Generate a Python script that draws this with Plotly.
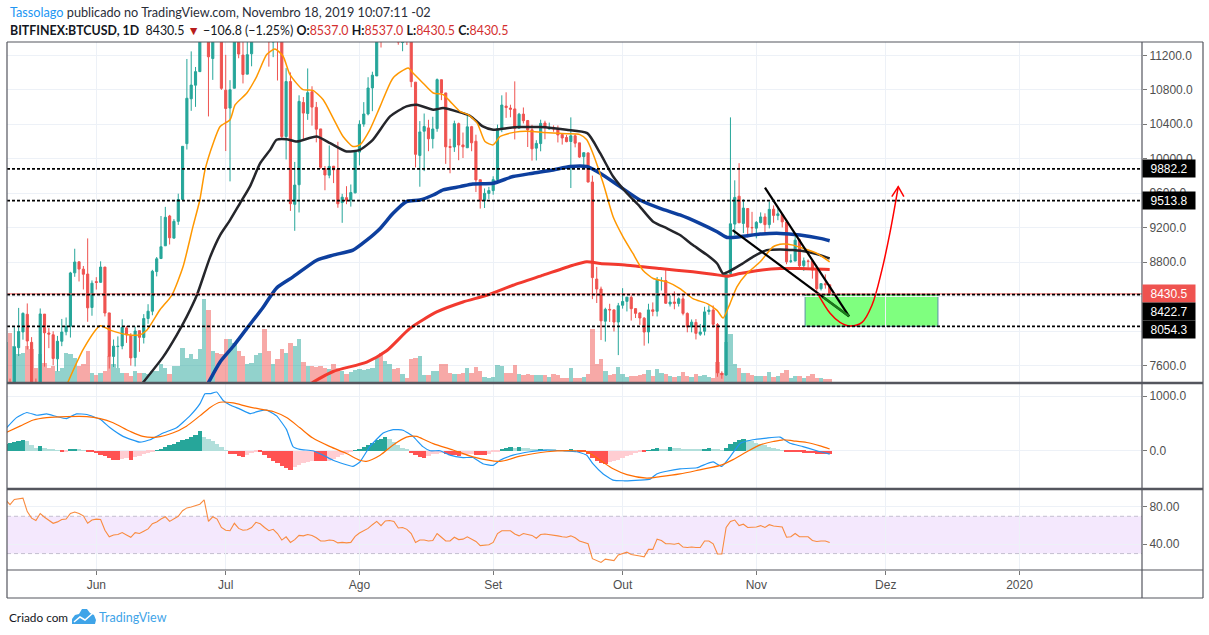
import numpy as np
import pandas as pd
import plotly.graph_objects as go

# BITFINEX:BTCUSD daily candles, 2019-05-11 .. 2019-11-18
start = pd.Timestamp('2019-05-11')

opens = [
    6379, 7204, 6971, 7807, 7989, 8194, 7868, 7341, 7267, 8196,
    7977, 7956, 7677, 7881, 7991, 8055, 8675, 8803, 8718, 8661,
    8273, 8573, 8565, 8742, 8210, 7705, 7819, 7826, 8036, 7949,
    7692, 8004, 7925, 8145, 8230, 8690, 8841, 8989, 9335, 9078,
    9273, 9526, 10175, 10696, 10854, 11011, 11778, 13017, 11163, 12400,
    11931, 10796, 10588, 10818, 11972, 11203, 10982, 11218, 11446, 12284,
    12572, 12139, 11354, 11813, 11381, 10257, 10896, 9471, 9698, 10653,
    10525, 10777, 10596, 10346, 9887, 9809, 9913, 9875, 9491, 9548,
    9522, 9604, 10077, 10402, 10519, 10822, 10961, 11811, 11476, 11954,
    11954, 11861, 11349, 11528, 11385, 10889, 10038, 10320, 10358, 10233,
    10350, 10917, 10764, 10142, 10136, 10407, 10160, 10127, 10372, 10203,
    9756, 9514, 9597, 9630, 9758, 10346, 10611, 10588, 10578, 10354,
    10518, 10443, 10336, 10123, 10176, 10415, 10345, 10356, 10347, 10281,
    10247, 10200, 10266, 10184, 10024, 10067, 9729, 8603, 8487, 8114,
    8251, 8245, 8104, 8299, 8344, 8390, 8260, 8210, 8149, 7989,
    8246, 8229, 8585, 8585, 8314, 8337, 8320, 8373, 8204, 8047,
    8100, 7963, 7997, 8226, 8243, 8076, 7509, 7490, 8667, 9241,
    9565, 9249, 9422, 9202, 9194, 9259, 9324, 9235, 9414, 9340,
    9352, 9265, 8809, 8812, 9059, 8759, 8812, 8812, 8705, 8491,
    8549, 8537,
]
highs = [
    7333, 7447, 8047, 8268, 8216, 8320, 7929, 7448, 8262, 8197,
    8033, 7997, 7943, 8140, 8157, 8687, 8955, 8806, 8755, 9075,
    8587, 8625, 8809, 8744, 8210, 7901, 7937, 8136, 8059, 7975,
    8050, 8004, 8196, 8311, 8710, 8859, 9335, 9441, 9348, 9299,
    9594, 10144, 11158, 11246, 11065, 11786, 13797, 13311, 12445, 12400,
    12179, 11206, 10912, 11968, 12006, 11395, 11620, 11541, 12345, 12779,
    13129, 12139, 11905, 11841, 11451, 11052, 11002, 9963, 10736, 10716,
    11048, 10841, 10659, 10346, 9916, 10154, 9916, 10197, 9592, 9681,
    9701, 10085, 10446, 10657, 10946, 11010, 11895, 12273, 12036, 11979,
    11970, 11915, 11523, 11528, 11420, 10889, 10437, 10525, 10452, 10487,
    10932, 10917, 10764, 10232, 10442, 10419, 10304, 10512, 10381, 10279,
    9756, 9655, 9673, 9796, 10396, 10736, 10771, 10627, 10898, 10532,
    10595, 10450, 10394, 10215, 10453, 10441, 10419, 10387, 10386, 10290,
    10275, 10480, 10285, 10184, 10074, 10074, 9804, 8744, 8515, 8270,
    8316, 8250, 8326, 8497, 8393, 8413, 8260, 8215, 8161, 8316,
    8332, 8627, 8625, 8721, 8413, 8460, 8390, 8410, 8216, 8134,
    8138, 8082, 8281, 8297, 8296, 8092, 7532, 8691, 10480, 9749,
    9948, 9529, 9426, 9383, 9276, 9377, 9366, 9505, 9458, 9432,
    9368, 9272, 8891, 9103, 9072, 8853, 8830, 8812, 8730, 8550,
    8657, 8537,
]
lows = [
    6375, 6946, 6872, 7709, 7899, 7785, 6946, 7251, 7267, 7586,
    7801, 7602, 7533, 7824, 7950, 7924, 8629, 8575, 8482, 8107,
    8177, 8481, 8561, 8169, 7564, 7583, 7571, 7788, 7862, 7598,
    7589, 7758, 7855, 8084, 8183, 8634, 8840, 8989, 9004, 9078,
    9232, 9526, 10107, 10556, 10602, 11011, 11778, 10491, 10915, 11508,
    10799, 10089, 9737, 10818, 11166, 10874, 10982, 11073, 11393, 12233,
    11710, 11069, 11179, 10908, 10234, 9992, 9394, 9163, 9376, 10229,
    10451, 10384, 10190, 9883, 9634, 9773, 9717, 9431, 9256, 9472,
    9444, 9598, 9923, 10371, 10503, 10552, 10961, 11291, 11432, 11556,
    11708, 11323, 11248, 11320, 10830, 9899, 9675, 9856, 10087, 10119,
    10313, 10680, 9940, 9831, 10079, 9983, 10008, 10127, 10087, 9613,
    9421, 9428, 9531, 9582, 9745, 10308, 10474, 10481, 10224, 10354,
    10409, 10136, 9978, 9980, 10086, 10226, 10339, 10313, 10189, 10164,
    10191, 9660, 10132, 10009, 9922, 9727, 8370, 8325, 7895, 7877,
    8105, 7994, 7720, 8260, 8227, 8121, 8151, 8071, 7830, 7856,
    8172, 8169, 8470, 8316, 8284, 8252, 8284, 8182, 7985, 7985,
    7902, 7944, 7949, 8189, 8038, 7469, 7446, 7479, 8644, 9112,
    9256, 9136, 9085, 9101, 9076, 9249, 9141, 9191, 9257, 9286,
    9202, 8775, 8789, 8812, 8731, 8698, 8736, 8608, 8428, 8470,
    8492, 8430.5,
]
closes = [
    7204, 6973, 7815, 7994, 8205, 7884, 7343, 7272, 8198, 7979,
    7964, 7681, 7881, 7988, 8052, 8674, 8801, 8719, 8659, 8269,
    8555, 8564, 8742, 8209, 7707, 7824, 7822, 8043, 7954, 7688,
    8000, 7927, 8145, 8230, 8693, 8838, 8978, 9320, 9082, 9273,
    9527, 10144, 10702, 10855, 11011, 11790, 13016, 11183, 12407, 11959,
    10817, 10583, 10801, 11961, 11215, 10978, 11208, 11450, 12285, 12573,
    12157, 11358, 11815, 11392, 10257, 10896, 9478, 9694, 10666, 10530,
    10767, 10599, 10343, 9900, 9811, 9911, 9871, 9477, 9553, 9519,
    9607, 10085, 10400, 10519, 10821, 10970, 11805, 11478, 11941, 11966,
    11862, 11354, 11523, 11382, 10895, 10051, 10311, 10374, 10231, 10345,
    10918, 10764, 10138, 10131, 10407, 10159, 10138, 10370, 10185, 9754,
    9510, 9598, 9630, 9757, 10347, 10623, 10594, 10575, 10353, 10517,
    10441, 10334, 10115, 10178, 10410, 10360, 10358, 10347, 10276, 10241,
    10198, 10266, 10181, 10019, 10070, 9729, 8620, 8487, 8118, 8251,
    8245, 8104, 8293, 8343, 8393, 8259, 8205, 8151, 7988, 8245,
    8228, 8595, 8586, 8322, 8336, 8321, 8374, 8205, 8047, 8103,
    7973, 7988, 8222, 8243, 8078, 7514, 7493, 8660, 9244, 9551,
    9256, 9427, 9205, 9199, 9261, 9324, 9235, 9412, 9342, 9360,
    9267, 8804, 8813, 9055, 8757, 8815, 8809, 8708, 8491, 8550,
    8537.3, 8430.5,
]
# volume, thousand BTC
volume = [
    40, 49, 36, 28, 29, 36, 33, 14, 28, 19,
    14, 16, 11, 14, 29, 28, 24, 16, 18, 31,
    9, 7, 9, 11, 26, 18, 14, 9, 9, 6,
    11, 9, 9, 8, 11, 11, 18, 14, 8, 16,
    16, 34, 24, 28, 23, 33, 83, 72, 31, 29,
    28, 43, 43, 39, 31, 26, 18, 19, 27, 29,
    53, 31, 18, 23, 33, 29, 39, 36, 43, 20,
    16, 16, 15, 16, 14, 13, 18, 14, 11, 8,
    10, 12, 13, 12, 13, 14, 24, 29, 21, 18,
    13, 14, 8, 4, 23, 24, 26, 7, 7, 11,
    11, 18, 18, 9, 8, 8, 9, 14, 9, 15,
    11, 5, 4, 5, 17, 16, 9, 9, 17, 8,
    7, 8, 7, 7, 7, 7, 5, 8, 7, 4,
    4, 14, 4, 4, 5, 8, 53, 18, 23, 11,
    7, 8, 15, 8, 5, 6, 6, 7, 8, 12,
    6, 13, 9, 8, 6, 5, 6, 10, 6, 5,
    8, 6, 7, 5, 4, 20, 9, 40, 48, 18,
    14, 9, 9, 7, 6, 6, 6, 10, 5, 6,
    9, 12, 4, 6, 6, 4, 6, 8, 4, 4,
    3, 3,
]
macd_hist = [
    120, 140, 160, 185, 200, 170, 110, 60, 87, 50,
    30, 15, 5, -12, -5, 20, 30, 25, 10, -15,
    -25, -40, -70, -100, -140, -165, -175, -150, -130, -170,
    -120, -90, -60, -35, -15, 10, 40, 70, 100, 130,
    160, 190, 220, 250, 290, 355, 260, 220, 170, 120,
    75, 5, -50, -60, -90, -112, -80, -40, -20, -30,
    -80, -130, -180, -230, -280, -320, -350, -300, -260, -230,
    -200, -180, -185, -190, -195, -190, -150, -110, -70, -35,
    -10, 5, 30, 70, 110, 150, 190, 220, 243, 210,
    160, 110, 60, 20, -40, -80, -110, -125, -90, -60,
    -50, -45, -60, -75, -85, -90, -70, -60, -55, -70,
    -80, -85, -60, -30, -10, 30, 55, 75, 60, 75,
    60, 45, 35, 25, 30, 25, 20, 15, 12, 10,
    8, 15, 5, -5, -20, -60, -130, -180, -215, -236,
    -210, -185, -160, -130, -100, -70, -45, -15, -25, 10,
    25, 45, 40, 30, 70, 60, 50, 40, 35, 30,
    25, 20, 35, 45, 35, 20, 10, 60, 120, 160,
    190, 212, 195, 175, 150, 125, 100, 75, 50, 30,
    10, -10, -20, -25, -30, -35, -40, -45, -50, -55,
    -60, -65,
]
rsi = [
    87.5, 82.5, 88, 89, 89.5, 75, 68, 65.5, 73, 69,
    66, 62.5, 64, 66.5, 67, 73, 74.5, 73, 70.5, 62.5,
    66, 67, 66.5, 55, 48, 50, 50.5, 52.5, 50, 47.5,
    52.5, 51.5, 54, 56.5, 62, 64, 67, 69.5, 64.5, 67,
    70, 76, 79, 80, 81.5, 83, 87.5, 64.5, 69.5, 67,
    58, 55, 54.5, 62.5, 57, 55, 55.5, 58, 63.5, 62,
    58, 54.5, 56, 51.5, 44.5, 48, 42, 45, 49.5, 49,
    50.5, 49.5, 47, 43.5, 43.5, 44.5, 44, 41.5, 42, 41.5,
    42, 48.5, 52, 54.5, 57, 61, 64.5, 60, 65, 65.5,
    64.5, 57.5, 58, 56, 51.5, 42, 44.5, 44.5, 43.5, 44,
    51.5, 47.5, 43.5, 43.5, 47.5, 45, 45.5, 48, 45.5, 43,
    38.5, 39, 39.5, 42, 51.5, 54.5, 54.5, 54.5, 51, 49,
    51.5, 50.5, 49.5, 46.5, 50.5, 51, 50.5, 50, 49, 48,
    47.5, 49, 47, 43.5, 42, 40.5, 24.5, 22.5, 20.5, 24,
    23.5, 22.5, 28.5, 30, 31.5, 29, 28.5, 27.5, 26.5, 34.5,
    34.5, 45.5, 44, 40.5, 40.5, 40, 41, 37, 36.5, 37,
    36.5, 36.5, 43.5, 43.5, 40.5, 29.5, 29.5, 58, 64.5, 66,
    60, 61.5, 58, 58.5, 58.5, 60, 58, 61, 59.5, 59,
    58.5, 47.5, 48, 51.5, 48, 48, 48, 44, 43, 43.5,
    43.5, 42,
]

# moving averages (days since 2019-05-11)
ma_fast_day = [13.5, 18.0, 21.9, 24.2, 28.0, 31.1, 32.7, 35.8, 38.5, 41.1, 43.4, 45.0, 46.2,
               48.1, 49.7, 52.0, 53.2, 55.9, 58.2, 60.5, 62.4, 64.3, 65.9, 68.9, 71.2, 73.6,
               75.9, 78.2, 80.5, 82.1, 84.4, 86.8, 89.8, 93.3, 94.4, 96.7, 99.1, 101.4, 103.0,
               105.3, 107.2, 109.3, 111.1, 113.0, 114.6, 116.9, 119.2, 122.2, 124.6, 130.1,
               133.1, 134.7, 136.1, 138.5, 140.8, 143.1, 145.4, 147.7, 150.1, 153.3, 156.3,
               159.3, 162.6, 164.9, 166.3, 167.9, 169.5, 171.8, 174.9, 177.9, 180.2, 182.5,
               184.9, 188.1, 191.0]
ma_fast_val = [7300, 7790, 8060, 8010, 7960, 7955, 8008, 8250, 8415, 8745, 9211, 9521, 9870,
               10181, 10375, 10453, 10627, 10763, 10957, 11209, 11275, 11190, 10976, 10802,
               10794, 10685, 10472, 10258, 10142, 10161, 10336, 10608, 10938, 11054, 10996,
               10880, 10763, 10744, 10666, 10550, 10511, 10414, 10200, 10161, 10258, 10297,
               10317, 10317, 10305, 10290, 10280, 10220, 10064, 9715, 9327, 9094, 8900, 8706,
               8609, 8570, 8493, 8376, 8318, 8240, 8151, 8318, 8512, 8667, 8803, 8978, 9009,
               8997, 8958, 8900, 8803]
ma_mid_day = [31.8, 36.5, 39.6, 42.0, 44.3, 47.4, 49.7, 52.0, 54.3, 56.6, 59.0, 61.3, 62.8,
              65.1, 67.5, 72.1, 75.2, 79.0, 82.1, 85.1, 89.1, 92.9, 95.3, 99.1, 101.4, 104.5,
              107.6, 110.6, 113.0, 116.1, 119.2, 123.8, 130.0, 134.8, 137.8, 140.8, 144.0,
              147.0, 150.1, 153.3, 156.3, 159.3, 162.6, 164.9, 166.3, 167.9, 170.2, 173.2,
              176.4, 179.5, 182.5, 185.7, 188.8, 191.0]
ma_mid_val = [7400, 7700, 7950, 8170, 8415, 8861, 9114, 9288, 9482, 9676, 9948, 10103, 10220,
              10227, 10200, 10258, 10181, 10084, 10103, 10220, 10491, 10608, 10627, 10569,
              10588, 10550, 10499, 10375, 10336, 10355, 10367, 10367, 10336, 10297, 10064,
              9793, 9599, 9444, 9269, 9191, 9114, 8997, 8881, 8784, 8667, 8698, 8764, 8861,
              8939, 8947, 8939, 8920, 8881, 8842]
ma_slow_day = [47.0, 49.7, 52.7, 55.9, 59.6, 62.8, 66.6, 72.1, 75.9, 80.5, 83.7, 86.8, 89.8,
               92.9, 96.0, 99.1, 101.4, 105.3, 108.3, 113.0, 117.6, 122.2, 126.9, 130.8, 134.7,
               137.8, 142.4, 147.0, 151.7, 156.3, 160.9, 164.9, 167.2, 170.2, 174.9, 179.5,
               184.1, 188.8, 191.0]
ma_slow_val = [7400, 7640, 7820, 8030, 8270, 8500, 8628, 8822, 8881, 8939, 9055, 9191, 9366,
               9502, 9521, 9579, 9638, 9676, 9707, 9715, 9793, 9832, 9870, 9909, 9909, 9832,
               9676, 9521, 9424, 9347, 9249, 9152, 9086, 9094, 9125, 9133, 9114, 9075, 9048]
ma_long_day = [71.0, 75.9, 83.7, 88.3, 93.7, 99.9, 106.0, 111.5, 117.6, 124.6, 131.5, 134.7,
               137.8, 144.0, 151.7, 159.3, 163.9, 167.2, 170.2, 174.9, 179.5, 184.1, 191.0]
ma_long_val = [7400, 7530, 7640, 7770, 8030, 8221, 8337, 8415, 8531, 8648, 8764, 8803, 8784,
               8764, 8725, 8687, 8660, 8636, 8667, 8706, 8725, 8725, 8714]

# MACD lines
macd_day = [0.2, 2.5, 4.9, 7.2, 9.5, 11.8, 14.1, 16.4, 18.8, 21.9, 24.2, 27.2, 31.1, 33.5,
            36.5, 39.6, 42.7, 45.0, 46.2, 47.4, 48.9, 50.4, 52.0, 54.3, 56.6, 59.0, 60.5, 62.8,
            65.1, 66.6, 68.2, 71.2, 73.6, 75.9, 78.2, 80.5, 82.1, 84.4, 87.5, 89.8, 92.1, 94.4,
            96.7, 98.4, 100.7, 103.0, 106.0, 108.3, 110.6, 113.0, 114.6, 117.6, 121.5, 125.4,
            129.2, 132.4, 134.7, 136.1, 138.5, 140.8, 143.1, 147.0, 149.4, 150.9, 153.2, 156.3,
            160.2, 162.5, 164.0, 166.0, 167.9, 170.3, 173.2, 176.4, 179.5, 181.8, 184.8, 188.0,
            191.0]
macd_val = [419, 605, 699, 649, 674, 624, 587, 674, 662, 574, 419, 263, 157, 201, 325, 419,
            637, 855, 1042, 1042, 1073, 917, 836, 761, 680, 730, 743, 637, 387, 76, 26, 1, -80,
            -173, -236, -285, -204, 76, 325, 387, 375, 263, 76, 0, 1, -80, -123, -123, -236,
            -267, -173, -80, -17, 14, 1, -17, -80, -236, -422, -535, -547, -535, -516, -422,
            -373, -329, -310, -236, -204, -285, -111, 138, 201, 232, 250, 138, 76, 1, -61]
signal_day = [0.2, 3.3, 6.4, 9.5, 14.1, 18.8, 21.9, 24.9, 28.8, 31.8, 35.0, 38.7, 41.9, 45.0,
              47.4, 49.7, 52.7, 55.9, 59.0, 62.0, 65.1, 68.2, 71.2, 75.2, 79.0, 82.1, 83.6, 86.8,
              89.8, 92.9, 95.3, 96.0, 99.1, 103.7, 108.3, 114.6, 119.2, 125.4, 131.5, 134.7,
              137.8, 140.8, 144.0, 148.6, 151.7, 156.3, 160.9, 165.6, 168.6, 171.8, 174.9, 177.9,
              180.2, 182.5, 185.7, 188.8, 191.0]
signal_val = [338, 450, 562, 606, 624, 624, 587, 512, 356, 263, 250, 325, 450, 637, 792, 886,
              873, 811, 761, 718, 606, 419, 232, 76, -50, -173, -192, -80, 107, 250, 263, 240,
              130, 14, -111, -192, -98, -17, 1, -17, -173, -329, -435, -497, -472, -422, -347,
              -267, -161, -17, 107, 169, 201, 182, 151, 89, 32]

# user drawings (days since 2019-05-11, price)
levels = [9882.2, 9513.8, 8422.7, 8054.3]
last_price = 8430.5
box_day = [185.3, 216.1]
box_price = [8054.3, 8422.7]
trend_a_day, trend_a_price = [176.0, 195.5], [9664, 8170]
trend_b_day, trend_b_price = [168.5, 195.5], [9172, 8170]
arrow_day, arrow_price = [189.5, 195.5], [8392, 8170]
path_day = [188.3, 191.1, 193.4, 195.7, 198.5, 200.8, 203.1, 205.0, 206.9]
path_price = [8427, 8205, 8100, 8058, 8100, 8299, 8707, 9148, 9676]
head_day, head_price = [205.4, 206.9, 208.2], [9560, 9676, 9560]


def day(d):
    return start + pd.to_timedelta(np.asarray(d, dtype=float), unit='D')


dates = pd.date_range(start, periods=len(closes), freq='D')

UP, DOWN = '#26a69a', '#ef5350'
vol_colors = ['rgba(38,166,154,0.5)' if c >= o else 'rgba(239,83,80,0.5)'
              for o, c in zip(opens, closes)]
hist_colors = []
for i, h in enumerate(macd_hist):
    prev = macd_hist[i - 1] if i else h
    if h >= 0:
        hist_colors.append('#26a69a' if h >= prev else '#b2dfdb')
    else:
        hist_colors.append('#ffcdd2' if h > prev else '#ff5252')

# page geometry
W, H = 1209, 635
L, R, T, B = 7, 67, 42, 65
PW, PH = W - L - R, H - T - B


def px(x):
    return (x - L) / PW


def py(y):
    return (H - B - y) / PH


FONT = 'Lato'
AXFONT = dict(family='Liberation Sans', size=12, color='#4f4f4f')
GRID = '#edf1f7'

fig = go.Figure()

fig.add_trace(go.Bar(x=dates, y=volume, marker=dict(color=vol_colors, line_width=0),
                     xaxis='x', yaxis='y', hoverinfo='skip'))
fig.add_trace(go.Candlestick(
    x=dates, open=opens, high=highs, low=lows, close=closes, xaxis='x', yaxis='y2',
    increasing=dict(line=dict(color=UP, width=1), fillcolor=UP),
    decreasing=dict(line=dict(color=DOWN, width=1), fillcolor=DOWN),
    whiskerwidth=0, hoverinfo='skip'))

for d, v, color, width in [(ma_long_day, ma_long_val, '#f23a2f', 3),
                           (ma_slow_day, ma_slow_val, '#0d3f9e', 3.5),
                           (ma_mid_day, ma_mid_val, '#25262b', 2.5),
                           (ma_fast_day, ma_fast_val, '#ff9800', 1.5)]:
    fig.add_trace(go.Scatter(x=day(d), y=v, mode='lines', xaxis='x', yaxis='y2',
                             line=dict(color=color, width=width, shape='spline', smoothing=0.6),
                             hoverinfo='skip'))

# drawings
for d, p, color, width in [(trend_a_day, trend_a_price, '#000000', 2.2),
                           (trend_b_day, trend_b_price, '#000000', 2.2),
                           (arrow_day, arrow_price, '#1b7a1b', 2.5)]:
    fig.add_trace(go.Scatter(x=day(d), y=p, mode='lines', xaxis='x', yaxis='y2',
                             line=dict(color=color, width=width), hoverinfo='skip'))
fig.add_trace(go.Scatter(x=day(path_day), y=path_price, mode='lines', xaxis='x', yaxis='y2',
                         line=dict(color='#ff0000', width=1.5, shape='spline', smoothing=1.0),
                         hoverinfo='skip'))
fig.add_trace(go.Scatter(x=day(head_day), y=head_price, mode='lines', xaxis='x', yaxis='y2',
                         line=dict(color='#ff0000', width=1.5), hoverinfo='skip'))

# MACD pane
fig.add_trace(go.Bar(x=dates, y=macd_hist, marker=dict(color=hist_colors, line_width=0),
                     xaxis='x', yaxis='y3', hoverinfo='skip'))
fig.add_trace(go.Scatter(x=day(macd_day), y=macd_val, mode='lines', xaxis='x', yaxis='y3',
                         line=dict(color='#2196f3', width=1.2, shape='spline', smoothing=0.4),
                         hoverinfo='skip'))
fig.add_trace(go.Scatter(x=day(signal_day), y=signal_val, mode='lines', xaxis='x', yaxis='y3',
                         line=dict(color='#ff6d00', width=1.2, shape='spline', smoothing=0.8),
                         hoverinfo='skip'))

# RSI pane
fig.add_trace(go.Scatter(x=dates, y=rsi, mode='lines', xaxis='x', yaxis='y4',
                         line=dict(color='#f98b3f', width=1.1), hoverinfo='skip'))

shapes = []
# RSI band
shapes.append(dict(type='rect', xref='x domain', x0=0, x1=1, yref='y4', y0=30, y1=70,
                   fillcolor='#f4e8fd', line_width=0, layer='below'))
for lv in (30, 70):
    shapes.append(dict(type='line', xref='x domain', x0=0, x1=1, yref='y4', y0=lv, y1=lv,
                       line=dict(color='#c4bfd0', width=1, dash='4px,3px'), layer='below'))
# target box
shapes.append(dict(type='rect', xref='x', yref='y2', x0=day(box_day[0]), x1=day(box_day[1]),
                   y0=box_price[0], y1=box_price[1], fillcolor='rgba(0,255,0,0.5)',
                   line=dict(color='#5b8fa8', width=1), layer='below'))
# horizontal levels
shapes.append(dict(type='line', xref='x domain', x0=0, x1=1, yref='y2', y0=last_price,
                   y1=last_price, line=dict(color='#ef5350', width=1)))
for lv in levels:
    shapes.append(dict(type='line', xref='x domain', x0=0, x1=1, yref='y2', y0=lv, y1=lv,
                       line=dict(color='#000000', width=1.6, dash='3px,2px')))
# pane frame
FRAME = '#54565e'
x_right = px(1203)
for yy, wd in [(383, 2.5), (489, 2.5), (570, 1.2), (42, 1.2), (598, 1.2)]:
    shapes.append(dict(type='line', xref='paper', yref='paper', x0=px(7), x1=x_right,
                       y0=py(yy), y1=py(yy), line=dict(color=FRAME, width=wd)))
for xx in (7, 1142, 1203):
    shapes.append(dict(type='line', xref='paper', yref='paper', x0=px(xx), x1=px(xx),
                       y0=py(42), y1=py(598), line=dict(color=FRAME, width=1.2)))

# TradingView logo in the footer
logo = [(72, 624), (72, 619), (75, 615), (79, 614), (82, 609), (87, 609), (90, 613),
        (94, 615), (96, 620), (95, 624)]
shapes.append(dict(type='path', xref='paper', yref='paper', fillcolor='#3fa4e8', line_width=0,
                   path='M ' + ' L '.join(f'{px(a):.5f},{py(b):.5f}' for a, b in logo) + ' Z'))
zig = [(74, 622), (80, 617), (85, 620), (93, 613)]
shapes.append(dict(type='path', xref='paper', yref='paper', line=dict(color='white', width=1.5),
                   path='M ' + ' L '.join(f'{px(a):.5f},{py(b):.5f}' for a, b in zig)))

annotations = []
red = '#d32f2f'
annotations.append(dict(
    xref='paper', yref='paper', x=px(8), y=py(12), xanchor='left', yanchor='middle',
    showarrow=False, font=dict(family=FONT, size=12.7, color='#2a2e39'),
    text="<span style='color:#2196f3'>Tassolago</span> publicado no TradingView.com, "
         "Novembro 18, 2019 10:07:11 -02"))
annotations.append(dict(
    xref='paper', yref='paper', x=px(8), y=py(30), xanchor='left', yanchor='middle',
    showarrow=False, font=dict(family=FONT, size=12.4, color='#131722'),
    text=f"<b>BITFINEX:BTCUSD, 1D</b>  8430.5 <span style='color:#b71c1c'>▼</span> "
         f"−106.8 (−1.25%) <b>O:</b><span style='color:{red}'>8537.0</span> "
         f"<b>H:</b><span style='color:{red}'>8537.0</span> "
         f"<b>L:</b><span style='color:{red}'>8430.5</span> "
         f"<b>C:</b><span style='color:{red}'>8430.5</span>"))
annotations.append(dict(
    xref='paper', yref='paper', x=px(7), y=py(617), xanchor='left', yanchor='middle',
    showarrow=False, font=dict(family=FONT, size=11.8, color='#131722'), text='Criado com'))
annotations.append(dict(
    xref='paper', yref='paper', x=px(97), y=py(617), xanchor='left', yanchor='middle',
    showarrow=False, font=dict(family=FONT, size=12.5, color='#3fa4e8'), text='TradingView'))

# price tags on the scale
for val, shift, bg in [(9882.2, 0, '#000000'), (9513.8, 0, '#000000'),
                       (last_price, 0, '#ef5350'), (8422.7, -17, '#000000'),
                       (8054.3, -3, '#000000')]:
    annotations.append(dict(
        xref='paper', yref='y2', x=1, y=val, yshift=shift, xanchor='left', yanchor='middle',
        showarrow=False, text=f'{val:.1f}', bgcolor=bg, width=49, height=14, borderpad=1.5,
        font=dict(family='Liberation Sans', size=12, color='white')))

month_ticks = ['2019-06-01', '2019-07-01', '2019-08-01', '2019-09-01', '2019-10-01',
               '2019-11-01', '2019-12-01', '2020-01-01']
month_text = ['Jun', 'Jul', 'Ago', 'Set', 'Out', 'Nov', 'Dez', '2020']
price_ticks = list(range(7600, 11201, 400))
# 8000 and 8400 sit fully under the price tags
price_text = ['' if v in (8000, 8400) else f'{v:.1f}' for v in price_ticks]

fig.update_layout(
    width=W, height=H, margin=dict(l=L, r=R, t=T, b=B),
    paper_bgcolor='white', plot_bgcolor='white', showlegend=False, hovermode=False,
    bargap=0, shapes=shapes, annotations=annotations,
    xaxis=dict(type='date', range=[day(0.3), day(263.4)], anchor='y4',
               tickvals=month_ticks, ticktext=month_text, showgrid=True, gridcolor=GRID,
               ticks='outside', ticklen=4, tickcolor='#777', tickfont=AXFONT,
               showline=False, zeroline=False, rangeslider=dict(visible=False)),
    yaxis=dict(domain=[py(382), 1.0], range=[0, 340], visible=False, fixedrange=True),
    yaxis2=dict(overlaying='y', side='right', anchor='x', range=[7408, 11355],
                tickvals=price_ticks, ticktext=price_text,
                showgrid=True, gridcolor=GRID, ticks='outside', ticklen=4, tickcolor='#777',
                tickfont=AXFONT, zeroline=False, showline=False),
    yaxis3=dict(domain=[py(488), py(384)], side='right', anchor='x', range=[-679, 1219],
                tickvals=[0, 1000], ticktext=['0.0', '1000.0'], showgrid=True, gridcolor=GRID,
                ticks='outside', ticklen=4, tickcolor='#777', tickfont=AXFONT,
                zeroline=False, showline=False),
    yaxis4=dict(domain=[0, py(490)], side='right', anchor='x', range=[12.4, 98.2],
                tickvals=[40, 80], ticktext=['40.00', '80.00'], showgrid=True, gridcolor=GRID,
                ticks='outside', ticklen=4, tickcolor='#777', tickfont=AXFONT,
                zeroline=False, showline=False),
)

fig.write_html('out.html', config={'displayModeBar': False},
               post_script="document.body.style.margin='0';")
